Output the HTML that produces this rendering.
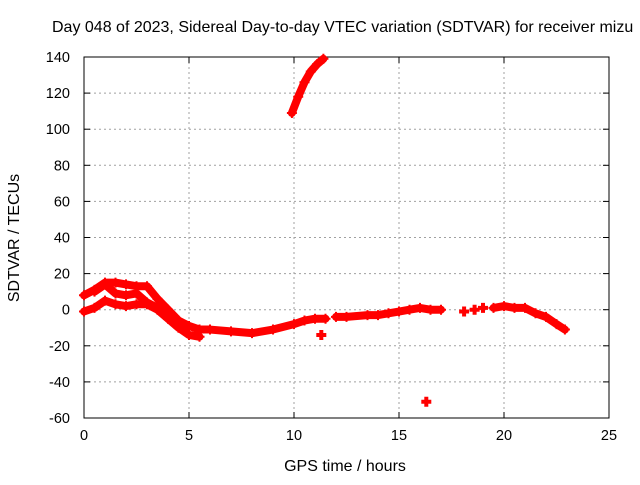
<!DOCTYPE html>
<html><head><meta charset="utf-8"><style>
body{margin:0;background:#fff;font-family:"Liberation Sans",sans-serif;}
svg text{font-family:"Liberation Sans",sans-serif;font-size:14.5px;fill:#000;}
svg text.big{font-size:16px;}
</style></head><body>
<svg id="chart" width="640" height="480">
<text class="big" x="52" y="32">Day 048 of 2023, Sidereal Day-to-day VTEC variation (SDTVAR) for receiver mizu</text>
<g id="grid"></g><g id="axes"></g><g id="marks"></g>
<text class="big" x="345" y="471" text-anchor="middle">GPS time / hours</text>
<text class="big" transform="translate(19,238) rotate(-90)" text-anchor="middle">SDTVAR / TECUs</text>
</svg>
<script>
const xTicks=[0,5,10,15,20,25];
const yTicks=[140,120,100,80,60,40,20,0,-20,-40,-60];
const upperTime=[0,0.5,1,1.5,2,2.5,3,3.5,4,4.5,5,5.5,6,7,8,9,10,10.5,11,11.5];
const upperVal=[8,11,15,15,14,13,13,6,0,-6,-9,-11,-11,-12,-13,-11,-8,-6,-5,-5];
const lowerTime=[0,0.5,1,1.5,2,2.5,3,3.5,4,4.5,5,5.5];
const lowerVal=[-1,1,5,3,2,3,3,0,-5,-10,-14,-15];
const midTime=[0.5,1,1.5,2,2.5,3,3.5,4];
const midVal=[10,14,9,8,9,4,1,-4];
const spikeTime=[9.9,10.2,10.5,10.8,11.1,11.4];
const spikeVal=[109,118,126,132,136,139];
const lateTime=[12,12.5,13.5,14,14.5,15,15.5,16,16.5,17];
const lateVal=[-4,-4,-3,-3,-2,-1,0,1,0,0];
const endTime=[19.5,20,20.5,21,21.5,22,22.5,22.9];
const endVal=[1,2,1,1,-2,-4,-8,-11];
const isoTime=[11.3,18.1,18.6,19,16.3];
const isoVal=[-14,-1,0,1,-51];
const NS="http://www.w3.org/2000/svg";
const L=84,R=609,T=57,B=418;
const xs=v=>L+(v-0)/25*(R-L);
const ys=v=>B-(v+60)/200*(B-T);
function mk(tag,a,p){const e=document.createElementNS(NS,tag);for(const k in a)e.setAttribute(k,a[k]);p.appendChild(e);return e;}
const grid=document.getElementById('grid'),axes=document.getElementById('axes'),marks=document.getElementById('marks');
xTicks.forEach(t=>{
 if(t>0&&t<25){const g=mk('line',{x1:xs(t),x2:xs(t),y1:T,y2:B,stroke:'#a0a0a0','stroke-dasharray':'2,3'},grid);
 
 }
 const tl=mk('text',{x:xs(t),y:B+22,'text-anchor':'middle'},axes);tl.textContent=t;
 
 
 mk('line',{x1:xs(t),x2:xs(t),y1:B,y2:B-6,stroke:'#000'},axes);
 mk('line',{x1:xs(t),x2:xs(t),y1:T,y2:T+6,stroke:'#000'},axes);
});
yTicks.forEach(t=>{
 if(t>-60&&t<140){const g=mk('line',{x1:L,x2:R,y1:ys(t),y2:ys(t),stroke:'#a0a0a0','stroke-dasharray':'2,3'},grid);
 
 }
 const tl=mk('text',{x:L-14,y:ys(t)+5,'text-anchor':'end'},axes);tl.textContent=t;
 
 
 mk('line',{x1:L,x2:L+6,y1:ys(t),y2:ys(t),stroke:'#000'},axes);
 mk('line',{x1:R,x2:R-6,y1:ys(t),y2:ys(t),stroke:'#000'},axes);
});
const fr=mk('rect',{x:L,y:T,width:R-L,height:B-T,fill:'none',stroke:'#000'},axes);


function series(tx,vy,name,line){
 if(line){const d=tx.map((t,i)=>(i?'L':'M')+xs(t)+','+ys(vy[i])).join('');
  const p=mk('path',{d:d,fill:'none',stroke:'#ff0000','stroke-width':8,'stroke-linejoin':'round','stroke-linecap':'round'},marks);
  
  }
 tx.forEach((t,i)=>{const x=xs(t),y=ys(vy[i]);
  const p=mk('path',{d:`M${x-5},${y}H${x+5}M${x},${y-5}V${y+5}`,stroke:'#ff0000','stroke-width':line?2:4},marks);
  
  });
}
series(upperTime,upperVal,'upper-track',true);
series(lowerTime,lowerVal,'lower-track',true);
series(midTime,midVal,'middle-track',true);
series(spikeTime,spikeVal,'spike-track',true);
series(lateTime,lateVal,'late-track',true);
series(endTime,endVal,'end-track',true);
series(isoTime,isoVal,'isolated',false);
</script>
</body></html>
